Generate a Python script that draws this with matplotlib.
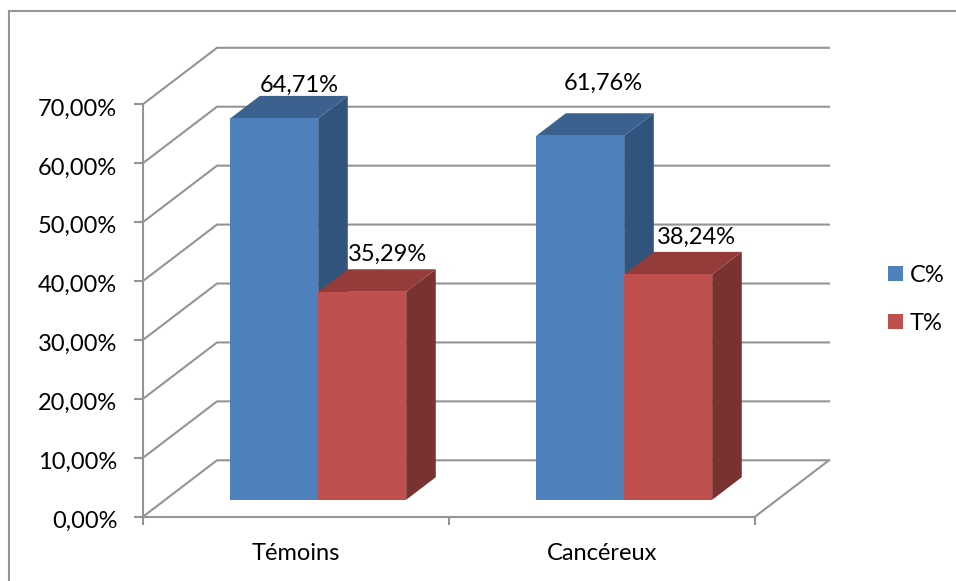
import matplotlib
matplotlib.use("Agg")
import matplotlib.pyplot as plt
from matplotlib.patches import Polygon, Patch
from matplotlib.transforms import ScaledTranslation

plt.rcParams["font.family"] = ["Lato", "DejaVu Sans"]

categories = ["Témoins", "Cancéreux"]
series_names = ["C%", "T%"]
c_values = [64.71, 61.76]
t_values = [35.29, 38.24]
y_ticks = [0, 10, 20, 30, 40, 50, 60, 70]

front_colors = ["#4F81BD", "#C0504D"]
top_colors = ["#3B618F", "#933C3A"]
side_colors = ["#31547D", "#7A3230"]
grid_color = "#949494"
line_w = 1.5
font_size = 17

# oblique depth: how far one full depth unit shifts x (categories) and y (percent)
depth_x = 0.2418
depth_y = 9.57
bar_w = 0.2875
depth_front = 0.3
depth_back = 0.7

W, H = 956, 581
x_scale = 306.0
y_scale = 5.893
x0_px, y0_px = 143, 516.7


def project(x, y, d=0.0):
    return x + d * depth_x, y + d * depth_y


def draw_bar(ax, left, value, i):
    right = left + bar_w
    front = [project(left, 0, depth_front), project(right, 0, depth_front),
             project(right, value, depth_front), project(left, value, depth_front)]
    top = [project(left, value, depth_front), project(right, value, depth_front),
           project(right, value, depth_back), project(left, value, depth_back)]
    side = [project(right, 0, depth_front), project(right, 0, depth_back),
            project(right, value, depth_back), project(right, value, depth_front)]
    ax.add_patch(Polygon(side, facecolor=side_colors[i], edgecolor="none", zorder=3))
    ax.add_patch(Polygon(top, facecolor=top_colors[i], edgecolor="none", zorder=3))
    ax.add_patch(Polygon(front, facecolor=front_colors[i], edgecolor="none", zorder=3))


fig = plt.figure(figsize=(W / 100, H / 100), dpi=100)
ax = fig.add_axes([0, 0, 1, 1])
ax.set_xlim(-x0_px / x_scale, (W - x0_px) / x_scale)
ax.set_ylim(-(H - y0_px) / y_scale, y0_px / y_scale)
ax.patch.set_alpha(0)

# outer chart border, only the top and left edges show
ax.plot([9 / W, 9 / W, 1], [0, 1 - 11 / H, 1 - 11 / H], transform=ax.transAxes,
        color=grid_color, lw=line_w, zorder=1, solid_joinstyle="miter")

# walls and floor
for t in y_ticks:
    xs, ys = zip(project(0, t), project(0, t, 1), project(2, t, 1))
    ax.plot(xs, ys, color=grid_color, lw=line_w, zorder=2)
xs, ys = zip(project(2, 0), project(2, 0, 1))
ax.plot(xs, ys, color=grid_color, lw=line_w, zorder=2)

# bars, back-to-front within each group
for k in range(len(categories)):
    mid = k + 0.5
    draw_bar(ax, mid - bar_w, c_values[k], 0)
    draw_bar(ax, mid, t_values[k], 1)

# value labels, shifted by hand in pixels from the top back edge of each bar
label_shift = [[(-5, 11), (-4, 15)], [(-6, 30), (-1, 15)]]
for k in range(len(categories)):
    for i, vals in enumerate([c_values, t_values]):
        centre = k + 0.5 + (i - 0.5) * bar_w
        txt = f"{vals[k]:.2f}%".replace(".", ",")
        ax.annotate(txt, xy=project(centre, vals[k], depth_back), xytext=label_shift[k][i],
                    textcoords="offset pixels", ha="center", va="center",
                    fontsize=font_size, color="black", zorder=5)

# axes
for name in ["top", "right"]:
    ax.spines[name].set_visible(False)
ax.spines["left"].set_position(("data", 0))
ax.spines["bottom"].set_position(("data", 0))
ax.spines["left"].set_bounds(0, 70)
ax.spines["bottom"].set_bounds(0, 2)
for name in ["left", "bottom"]:
    ax.spines[name].set_color(grid_color)
    ax.spines[name].set_linewidth(line_w)
    ax.spines[name].set_zorder(2.5)

ax.set_yticks(y_ticks)
ax.set_yticklabels([f"{t:.2f}%".replace(".", ",") for t in y_ticks])
ax.set_xticks([0, 1, 2])
ax.set_xticklabels(["", "", ""])
ax.set_xticks([k + 0.5 for k in range(len(categories))], minor=True)
ax.set_xticklabels(categories, minor=True)
ax.tick_params(axis="y", direction="out", length=6.5, width=line_w, color=grid_color,
               labelsize=font_size, pad=12)
ax.tick_params(axis="x", which="major", direction="out", length=6, width=line_w, color=grid_color)
ax.tick_params(axis="x", which="minor", length=0, labelsize=font_size, pad=19)

# y labels sit a little below their ticks
nudge = ScaledTranslation(0, -2 / 72, fig.dpi_scale_trans)
for lab in ax.get_yticklabels():
    lab.set_transform(lab.get_transform() + nudge)

handles = [Patch(facecolor=c, edgecolor="none", label=n) for c, n in zip(front_colors, series_names)]
ax.legend(handles=handles, loc="center left", bbox_to_anchor=(888 / W, 1 - 299.5 / H), frameon=False,
          fontsize=font_size, handlelength=0.63, handleheight=0.63, handletextpad=0.3,
          labelspacing=1.15, borderpad=0, borderaxespad=0)

fig.savefig("out.png", dpi=100)
